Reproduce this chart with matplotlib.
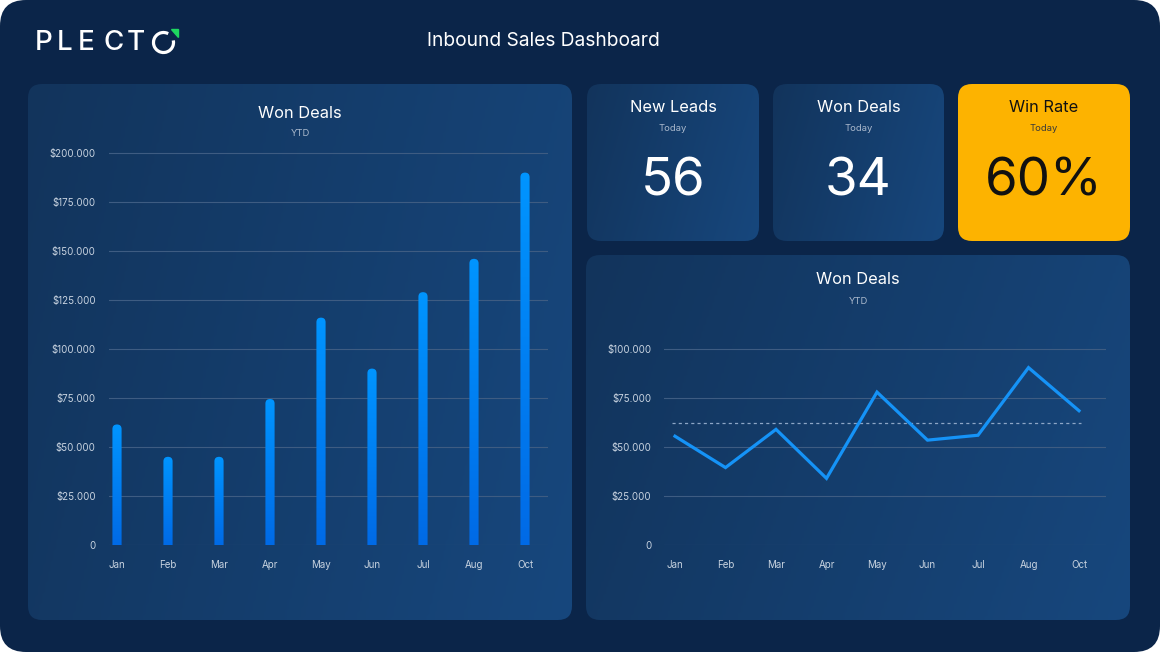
import numpy as np
import matplotlib
matplotlib.use("Agg")
import matplotlib.pyplot as plt
from matplotlib.patches import FancyBboxPatch, Arc, Polygon
from matplotlib.colors import LinearSegmentedColormap
from matplotlib.ticker import FuncFormatter

plt.rcParams["font.family"] = ["Inter", "DejaVu Sans"]

W, H = 1160, 652

# data
months = ["Jan", "Feb", "Mar", "Apr", "May", "Jun", "Jul", "Aug", "Oct"]
won_ytd_bars = [61500, 45000, 45000, 74500, 116000, 90000, 129000, 146000, 190000]
won_ytd_line = [55500, 39500, 59000, 34000, 78000, 53500, 56000, 90500, 68500]
line_target = 62000
kpi_titles = ["New Leads", "Won Deals", "Win Rate"]
kpi_values = ["56", "34", "60%"]

BG = "#0B2549"
GRID = "#3E5C82"
TICK = "#C8D3E0"
panel_cmap = LinearSegmentedColormap.from_list("panel", ["#12345C", "#17477D"])
bar_cmap = LinearSegmentedColormap.from_list("bar", ["#006AE6", "#0095FF"])


def money(v, _):
    if v == 0:
        return "0"
    return "$" + f"{int(v):,}".replace(",", ".")


fig = plt.figure(figsize=(W / 100, H / 100), dpi=100, facecolor="white")
bg = fig.add_axes([0, 0, 1, 1])
bg.set_axis_off()

# outer rounded background
bg.add_patch(FancyBboxPatch((0, 0), W, H, boxstyle="round,pad=0,rounding_size=26",
                            facecolor=BG, edgecolor="none", zorder=0))


def panel(x0, y0, x1, y1, r=14, color=None):
    p = FancyBboxPatch((x0, y0), x1 - x0, y1 - y0,
                       boxstyle=f"round,pad=0,rounding_size={r}",
                       facecolor=color if color else "none", edgecolor="none", zorder=1)
    bg.add_patch(p)
    if color is None:
        gx, gy = np.meshgrid(np.linspace(0, 1, 200), np.linspace(0, 1, 200))
        g = 0.8 * gx + 0.2 * gy
        im = bg.imshow(g, extent=(x0, x1, y1, y0), cmap=panel_cmap, aspect="auto",
                       zorder=1, interpolation="bilinear")
        im.set_clip_path(p)


panel(28, 84, 572, 620)
panel(586, 255, 1130, 620)
card_x = [(587, 759), (773, 944), (958, 1130)]
for k, (x0, x1) in enumerate(card_x):
    yellow = k == 2
    panel(x0, 84, x1, 241, color="#FDB300" if yellow else None)
    cx = (x0 + x1) / 2
    fg = "#111111" if yellow else "white"
    sub = "#3A3A3A" if yellow else "#A9B8CC"
    bg.text(cx, 107.5, kpi_titles[k], color=fg, fontsize=11.8, ha="center", va="center", zorder=3)
    bg.text(cx, 128.5, "Today", color=sub, fontsize=6.8, ha="center", va="center", zorder=3)
    bg.text(cx, 181.5, kpi_values[k], color=fg, fontsize=38, ha="center", va="center", zorder=3)

# header
bg.text(543, 41, "Inbound Sales Dashboard", color="white", fontsize=13.8, ha="center", va="center")
for ch, x in zip("PLECT", [43.5, 65, 86, 114, 136]):
    bg.text(x, 43, ch, color="white", fontsize=20, fontweight="medium", ha="center", va="center")
bg.add_patch(Arc((163.5, 42.5), 20, 20, theta1=-12, theta2=298, color="white", lw=2.3, zorder=3))
bg.add_patch(Polygon([(170.5, 29), (177.5, 29), (177.5, 36.5)], closed=True, color="#1ED760", zorder=3))

bg.text(300, 113, "Won Deals", color="white", fontsize=11.8, ha="center", va="center")
bg.text(300, 134, "YTD", color="#A9B8CC", fontsize=6.8, ha="center", va="center")
bg.text(858, 280, "Won Deals", color="white", fontsize=11.8, ha="center", va="center")
bg.text(858, 301, "YTD", color="#A9B8CC", fontsize=6.8, ha="center", va="center")

bg.set_xlim(0, W)
bg.set_ylim(H, 0)


def chart_axes(l, t, r, b):
    ax = fig.add_axes([l / W, 1 - b / H, (r - l) / W, (b - t) / H])
    ax.set_facecolor("none")
    for s in ax.spines.values():
        s.set_visible(False)
    ax.tick_params(length=0, colors=TICK, labelsize=7)
    ax.yaxis.set_major_formatter(FuncFormatter(money))
    ax.grid(axis="y", color=GRID, lw=0.8)
    ax.set_axisbelow(True)
    return ax


# bar chart
px_per_k = 1.96 / 1000
ax1 = chart_axes(109, 140, 548, 545)
x = np.arange(len(months))
ax1.set_xticks(x)
ax1.set_xticklabels(months)
ax1.set_yticks(np.arange(0, 200001, 25000))
ax1.tick_params(axis="y", pad=9.5)
ax1.tick_params(axis="x", pad=11)
bw = 0.18
ma = 51 / px_per_k
grad = np.linspace(0, 1, 256).reshape(-1, 1)
for i, v in enumerate(won_ytd_bars):
    p = FancyBboxPatch((i - bw / 2, -40000), bw, v + 40000,
                       boxstyle=f"round,pad=0,rounding_size={bw / 2}",
                       mutation_aspect=ma, facecolor="none", edgecolor="none")
    ax1.add_patch(p)
    im = ax1.imshow(grad, extent=(i - bw / 2, i + bw / 2, 0, v), origin="lower",
                    cmap=bar_cmap, aspect="auto", zorder=2)
    im.set_clip_path(p)
ax1.set_xlim(-8 / 51, 431 / 51)
ax1.set_ylim(0, 405 / px_per_k)

# line chart
ax2 = chart_axes(664, 340, 1106, 545)
ax2.plot(x, won_ytd_line, color="#1593F7", lw=2.3, solid_joinstyle="miter", zorder=3)
ax2.hlines(line_target, -0.06, 8.03, colors="#8DA6C6", linestyles=(0, (2.5, 2.5)), lw=0.9, zorder=2)
ax2.set_xlim(-11 / 50.5, 431 / 50.5)
ax2.set_ylim(0, 205 / px_per_k)
ax2.set_yticks(np.arange(0, 100001, 25000))
ax2.set_xticks(x)
ax2.set_xticklabels(months)
ax2.tick_params(axis="y", pad=9)
ax2.tick_params(axis="x", pad=11)

fig.savefig("out.png", dpi=100, facecolor="white")
